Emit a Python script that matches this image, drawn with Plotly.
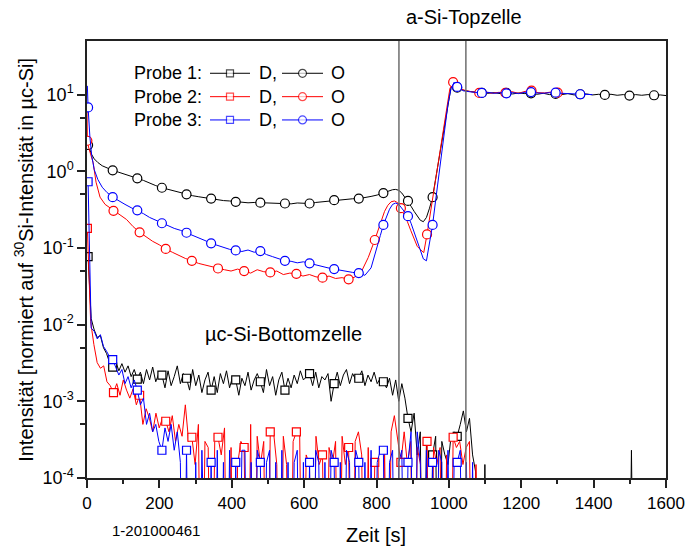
import numpy as np
import plotly.graph_objects as go

FONT = "Arial, 'Liberation Sans', sans-serif"
BLACK, RED, BLUE = "#000000", "#ff0000", "#0000ff"
FLOOR = 1e-7  # zero counts: drawn below the axis floor (clipped), as in the original

# ---------------- sampling times ----------------
P13_O_MAIN_T = (list(np.arange(71, 803, 17)) + list(np.arange(810.5, 1041, 8.5))
                + list(np.arange(1057, 1602, 17)))
P1_O_T = [3, 8, 13, 20, 30, 42, 55] + P13_O_MAIN_T
P3_O_T = [1, 3, 8, 13, 20, 30, 42, 55] + P13_O_MAIN_T
P2_O_T = ([0, 1, 5, 10, 17, 25, 36, 50] + list(73.2 + 18.05 * np.arange(41))
          + list(795.2 + 9.025 * np.arange(1, 25)) + list(1011.8 + 18.05 * np.arange(1, 18)))
P13_D_T = list(3 + 8.5 * np.arange(130))
P2_D_T = list(1 + 9.025 * np.arange(121))
P1_D_EXTRA_T = [1108, 1496, 1504.5, 1513]

# ---------------- O signal (circles) ----------------
P1_O = [2.2, 1.9, 1.65, 1.45, 1.3, 1.18, 1.1,
        1.03, 0.97, 0.92, 0.86, 0.81, 0.76, 0.70, 0.65, 0.61, 0.58, 0.55, 0.52, 0.50, 0.48, 0.465, 0.45,
        0.44, 0.43, 0.415, 0.41, 0.40, 0.395, 0.388, 0.392, 0.39, 0.384, 0.38, 0.385, 0.38, 0.376, 0.386, 0.38,
        0.38, 0.392, 0.40, 0.405, 0.42, 0.422, 0.43, 0.438, 0.44, 0.45, 0.47, 0.49,
        0.505, 0.52, 0.54, 0.56, 0.575, 0.58, 0.565, 0.52, 0.46, 0.41, 0.35, 0.30, 0.26, 0.23, 0.22, 0.25,
        0.33, 0.46, 0.8, 1.4, 2.4, 4.2, 7.5, 12.5, 13.8, 12.3, 11.8, 11.4,
        11.0, 10.7, 10.5, 10.4, 10.6, 10.3, 10.5, 10.2, 10.5, 10.3, 10.4, 10.1, 10.4, 10.0, 10.2, 10.0, 10.3,
        9.9, 10.1, 10.2, 9.9, 10.1, 9.9, 10.1, 9.8, 10.0, 9.7, 10.0, 9.8, 10.0, 9.8, 9.9, 9.7]
P3_O = [13.0, 6.8, 2.8, 1.6, 1.05, 0.78, 0.62, 0.53,
        0.46, 0.41, 0.37, 0.335, 0.31, 0.28, 0.25, 0.23, 0.21, 0.195, 0.18, 0.17, 0.158, 0.145, 0.135, 0.125,
        0.115, 0.108, 0.102, 0.096, 0.093, 0.09, 0.094, 0.088, 0.091, 0.082, 0.077, 0.072, 0.068, 0.067, 0.064,
        0.066, 0.063, 0.059, 0.057, 0.055, 0.053, 0.051, 0.05, 0.048, 0.047, 0.044, 0.055, 0.10,
        0.145, 0.20, 0.26, 0.32, 0.37, 0.385, 0.37, 0.33, 0.29, 0.26, 0.21, 0.16, 0.12, 0.09, 0.072, 0.068,
        0.11, 0.20, 0.42, 0.9, 1.9, 3.9, 7.5, 12.0, 14.5, 12.6, 11.8, 11.2,
        10.9, 10.6, 10.5, 10.7, 10.4, 10.6, 10.4, 10.6, 10.3, 10.7, 10.8, 10.5, 10.4, 10.6, 10.6, 10.4, 10.3,
        10.2, 10.1, 10.2, 10.0]
P2_O = [6.0, 2.5, 2.0, 1.7, 1.3, 0.72, 0.46, 0.37,
        0.305, 0.27, 0.235, 0.19, 0.16, 0.14, 0.122, 0.11, 0.097, 0.088, 0.08, 0.073, 0.068, 0.063, 0.06,
        0.057, 0.054, 0.052, 0.05, 0.053, 0.05, 0.047, 0.052, 0.049, 0.048, 0.05, 0.045, 0.047, 0.046, 0.043,
        0.045, 0.042, 0.041, 0.043, 0.04, 0.041, 0.039, 0.042, 0.05, 0.075, 0.127,
        0.17, 0.23, 0.30, 0.36, 0.40, 0.41, 0.39, 0.33, 0.27, 0.22, 0.17, 0.13, 0.105, 0.095, 0.087, 0.15,
        0.28, 0.55, 1.05, 2.0, 3.8, 7.0, 12.0, 14.5,
        12.0, 11.2, 10.9, 10.5, 10.8, 10.4, 10.7, 10.5, 10.9, 10.4, 11.0, 11.3, 10.6, 10.5, 10.8, 10.6, 10.3]

# ---------------- D signal (squares) ----------------
P1_D = [0.077, 0.012, 0.0085, 0.0068, 0.0072, 0.005, 0.0042, 0.0032,
        0.0028, 0.0033, 0.0025, 0.0031, 0.0024, 0.0029, 0.0021, 0.0026,
        0.00195, 0.0024, 0.0017, 0.0026, 0.0019, 0.0028, 0.0018, 0.0023,
        0.0022, 0.0015, 0.0025, 0.0016, 0.0021, 0.0029, 0.0017, 0.0023,
        0.0020, 0.0014, 0.0026, 0.0016, 0.0022, 0.0013, 0.0019, 0.0024,
        0.0014, 0.0021, 0.0013, 0.0023, 0.0017, 0.0025, 0.0015, 0.0021,
        0.0019, 0.0012, 0.0020, 0.0016, 0.0024, 0.0014, 0.0019, 0.0023,
        0.0018, 0.0013, 0.0026, 0.0016, 0.0021, 0.0012, 0.0019, 0.0024,
        0.0014, 0.0020, 0.0015, 0.0022, 0.0017, 0.0025, 0.0019, 0.0021,
        0.0023, 0.0016, 0.0024, 0.0015, 0.0021, 0.0019, 0.0023, 0.0010,
        0.0017, 0.0024, 0.0016, 0.0022, 0.0026, 0.0017, 0.0023, 0.0019,
        0.0020, 0.0025, 0.0016, 0.0022, 0.0018, 0.0024, 0.0017, 0.0020,
        0.0018, 0.0015, 0.0020, 0.0012, 0.0019, 0.0010, 0.0017, 0.0011,
        0.0006, 0.0004, 0.0007, 0.0002, 0.0004, 0.0, 0.0003, 0.0,
        0.0002, 0.00035, 0.0, 0.0003, 0.0002, 0.00015, 0.00035, 0.0004,
        0.00035, 0.0005, 0.00075, 0.0004, 0.0006, 0.0002, 0.00012, 0.0,
        0.0, 0.00015]
P1_D_EXTRA = [0.0, 0.0, 0.00023, 0.0]
P2_D = [0.18, 0.011, 0.0055, 0.0032, 0.0027, 0.0029, 0.0018, 0.0016,
        0.0013, 0.0017, 0.0012, 0.0019, 0.0014, 0.0011, 0.00145, 0.0009,
        0.0012, 0.0005, 0.0008, 0.0006, 0.0004, 0.0007, 0.00045, 0.0006,
        0.00055, 0.0004, 0.00065, 0.0003, 0.0005, 0.00035, 0.0009, 0.0003,
        0.00034, 0.00015, 0.0005, 0.0, 0.0003, 0.00025, 0.0, 0.0003,
        0.00034, 0.0002, 0.00045, 0.0, 0.00025, 0.0, 0.00015, 0.0003,
        0.00025, 0.0, 0.0005, 0.0, 0.00035, 0.00015, 0.0003, 0.0,
        0.0004, 0.0004, 0.00015, 0.0, 0.00035, 0.00015, 0.0, 0.0003,
        0.0004, 0.0004, 0.0, 0.0002, 0.00015, 0.0, 0.00035, 0.00015,
        0.0002, 0.0, 0.00025, 0.00015, 0.0003, 0.0, 0.00035, 0.00015,
        0.00025, 0.0, 0.0003, 0.0004, 0.0002, 0.0, 0.00025, 0.0,
        0.00016, 0.00015, 0.0, 0.00025, 0.0, 0.0004, 0.00065, 0.0003,
        0.00016, 0.0004, 0.00015, 0.0003, 0.0, 0.00025, 0.00015, 0.0,
        0.0003, 0.0, 0.00025, 0.00015, 0.00025, 0.0, 0.0002, 0.0,
        0.00034, 0.00025, 0.0003, 0.00015, 0.00025, 0.0003, 0.0, 0.00015,
        0.0]
P3_D = [0.73, 0.009, 0.0082, 0.0065, 0.0074, 0.0052, 0.0045, 0.0038,
        0.0035, 0.0028, 0.0022, 0.0026, 0.0017, 0.0021, 0.0015, 0.0019,
        0.0014, 0.0009, 0.0011, 0.0005, 0.0007, 0.0004, 0.0005, 0.0003,
        0.00023, 0.00045, 0.0003, 0.0005, 0.00023, 0.0004, 0.00016, 0.0,
        0.00023, 0.0, 0.0, 0.00016, 0.0, 0.00023, 0.0, 0.0,
        0.00016, 0.0, 0.00023, 0.0, 0.00016, 0.0, 0.00023, 0.0,
        0.00016, 0.0, 0.00023, 0.00023, 0.0, 0.00016, 0.0, 0.00023,
        0.00016, 0.0, 0.00016, 0.00023, 0.0, 0.00016, 0.0, 0.00023,
        0.0, 0.00016, 0.0, 0.00016, 0.00023, 0.0, 0.00016, 0.0,
        0.00016, 0.0, 0.00023, 0.00016, 0.0, 0.00016, 0.0, 0.00023,
        0.00016, 0.0, 0.00016, 0.0, 0.00023, 0.00016, 0.0, 0.00023,
        0.00016, 0.0, 0.00016, 0.0, 0.00023, 0.0, 0.00016, 0.00023,
        0.00023, 0.0, 0.00016, 0.00023, 0.0, 0.00016, 0.00023, 0.0,
        0.00016, 0.0004, 0.0, 0.0004, 0.00016, 0.0, 0.00023, 0.0,
        0.00016, 0.0, 0.00023, 0.00016, 0.0, 0.00023, 0.0, 0.00016,
        0.00016, 0.00023, 0.0, 0.00016, 0.0, 0.00016, 0.0]

# layer boundaries (s)
BOUNDARIES = [862, 1047]

X_TICKS = [0, 200, 400, 600, 800, 1000, 1200, 1400, 1600]
Y_TICKS = [1e-4, 1e-3, 1e-2, 1e-1, 1, 10]
Y_TICKTEXT = ["10<sup>-4</sup>", "10<sup>-3</sup>", "10<sup>-2</sup>", "10<sup>-1</sup>",
              "10<sup>0</sup>", "10<sup>1</sup>"]
Y_MINOR = [5e-4, 5e-3, 5e-2, 0.5, 5]

# ---------------- layout constants (pixels) ----------------
W, H = 685, 549
L, R, T, B = 87, 666, 41, 478.3


def px(x, y):
    return (x - L) / (R - L), (B - y) / (B - T)


def marks(t, t0, period):
    f = (np.asarray(t, dtype=float) - t0) / period
    return (f > -0.01) & (np.abs(f - np.round(f)) < 0.01)


def clean(v):
    v = np.asarray(v, dtype=float)
    return np.where(v <= 0, FLOOR, v)


fig = go.Figure()


def add_series(t, v, color, symbol, size, t0, period):
    n = min(len(t), len(v))
    t = np.asarray(t[:n], dtype=float)
    v = clean(v[:n])
    fig.add_trace(go.Scatter(x=t, y=v, mode="lines", line=dict(color=color, width=1),
                             hoverinfo="skip", showlegend=False))
    m = marks(t, t0, period)
    fig.add_trace(go.Scatter(x=t[m], y=v[m], mode="markers",
                             marker=dict(symbol=symbol, size=size, color="white",
                                         line=dict(color=color, width=1.2)),
                             hoverinfo="skip", showlegend=False))


add_series(P13_D_T + P1_D_EXTRA_T, P1_D + P1_D_EXTRA, BLACK, "square", 8, 3, 68)
add_series(P2_D_T, P2_D, RED, "square", 8, 1, 72.2)
add_series(P13_D_T, P3_D, BLUE, "square", 8, 3, 68)
add_series(P1_O_T, P1_O, BLACK, "circle", 9, 3, 68)
add_series(P2_O_T, P2_O, RED, "circle", 9, 1, 72.2)
add_series(P3_O_T, P3_O, BLUE, "circle", 9, 3, 68)

# ---------------- custom legend ----------------
LEG_LABELS = ["Probe 1:", "Probe 2:", "Probe 3:"]
LEG_COLORS = [BLACK, RED, BLUE]
LEG_ROWS_Y = [73.3, 96.7, 120.0]
LEG_D_X = [210, 230, 250]
LEG_O_X = [282, 302.5, 323]

annotations = []
for lab, col, y in zip(LEG_LABELS, LEG_COLORS, LEG_ROWS_Y):
    for xs, sym, sz in ((LEG_D_X, "square", 7), (LEG_O_X, "circle", 8)):
        fig.add_trace(go.Scatter(x=xs, y=[y] * 3, mode="lines+markers", xaxis="x2", yaxis="y2",
                                 line=dict(color=col, width=1),
                                 marker=dict(symbol=sym, size=[0, sz, 0], color="white",
                                             line=dict(color=col, width=[0, 1.2, 0])),
                                 hoverinfo="skip", showlegend=False))
    for txt, xx, anc in ((lab, 204, "right"), ("D,", 257, "left"), ("O", 329, "left")):
        xp, yp = px(xx, y)
        annotations.append(dict(text=txt, x=xp, y=yp, xref="paper", yref="paper",
                                xanchor=anc, yanchor="middle", showarrow=False,
                                font=dict(family=FONT, size=18, color="black")))


def label(text, x, y, size, angle=0):
    xp, yp = px(x, y)
    annotations.append(dict(text=text, x=xp, y=yp, xref="paper", yref="paper",
                            xanchor="center", yanchor="middle", showarrow=False,
                            textangle=angle, font=dict(family=FONT, size=size, color="black")))


label("a-Si-Topzelle", 464, 17, 20)
label("µc-Si-Bottomzelle", 283, 334, 20)
label("1-201000461", 156, 531, 15)
label("Zeit [s]", 376, 535, 20)
label("Intensität [normiert auf <sup>30</sup>Si-Intensität in µc-Si]", 24, 260, 20, angle=-90)

shapes = [dict(type="line", xref="x", yref="paper", x0=b, x1=b, y0=0, y1=1,
               line=dict(color="#6e6e6e", width=1.5)) for b in BOUNDARIES]

AX = "#222222"
fig.update_layout(
    width=W, height=H,
    margin=dict(l=L, r=W - R, t=T, b=H - B, pad=0, autoexpand=False),
    paper_bgcolor="white", plot_bgcolor="white", showlegend=False,
    font=dict(family=FONT, size=17, color="black"),
    xaxis=dict(range=[0, 1600], tickmode="array", tickvals=X_TICKS, ticks="outside", ticklen=8,
               tickwidth=1.5, tickcolor=AX, showline=True, linecolor=AX, linewidth=1.5, mirror=True,
               showgrid=False, zeroline=False, tickfont=dict(size=17), ticklabelstandoff=1,
               automargin=False,
               minor=dict(dtick=100, ticks="outside", ticklen=4, tickwidth=1.5, tickcolor=AX,
                          showgrid=False)),
    yaxis=dict(type="log", range=[-4, np.log10(50)], tickmode="array", tickvals=Y_TICKS,
               ticktext=Y_TICKTEXT, ticks="outside", ticklen=8, tickwidth=1.5, tickcolor=AX,
               showline=True, linecolor=AX, linewidth=1.5, mirror=True, showgrid=False,
               zeroline=False, tickfont=dict(size=18), ticklabelstandoff=0, automargin=False,
               minor=dict(tickmode="array", tickvals=Y_MINOR, ticks="outside", ticklen=5,
                          tickwidth=1.5, tickcolor=AX, showgrid=False)),
    xaxis2=dict(overlaying="x", range=[L, R], visible=False, anchor="y2", automargin=False),
    yaxis2=dict(overlaying="y", range=[B, T], visible=False, anchor="x2", automargin=False),
    annotations=annotations,
    shapes=shapes,
)

fig.write_html("out.html")
